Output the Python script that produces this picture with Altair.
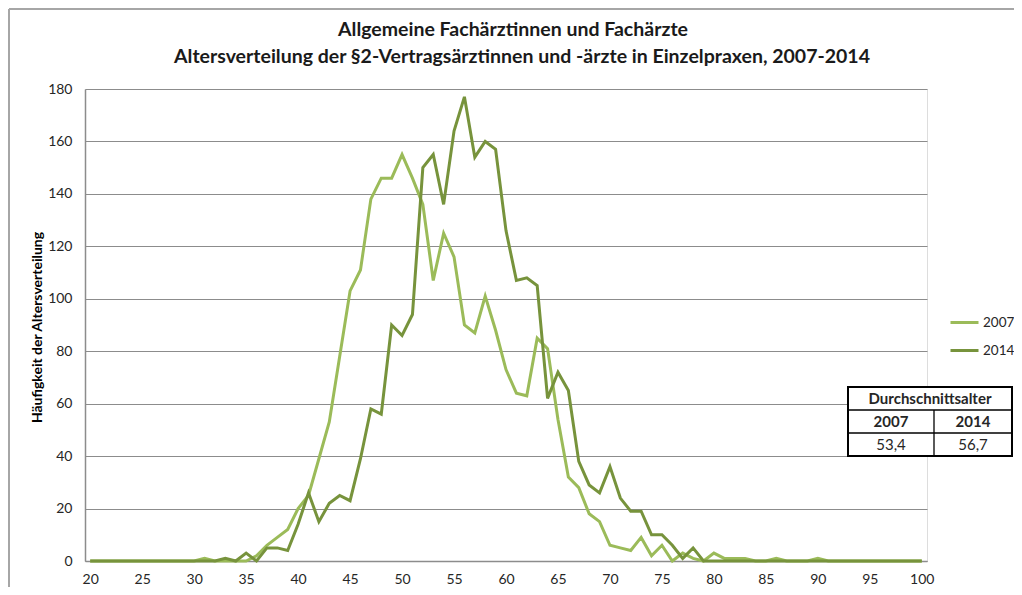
import altair as alt
import pandas as pd

# ---------------- data ----------------
ages = list(range(20, 101))

freq_2007 = [
    0, 0, 0, 0, 0, 0, 0, 0, 0, 0,            # 20-29
    0, 1, 0, 0, 0, 0, 2, 6, 9, 12,           # 30-39
    20, 25, 39, 53, 78, 103, 111, 138, 146, 146,   # 40-49
    155, 146, 136, 107, 125, 116, 90, 87, 101, 88,  # 50-59
    73, 64, 63, 85, 81, 54, 32, 28, 18, 15,         # 60-69
    6, 5, 4, 9, 2, 6, 0, 3, 1, 0,                   # 70-79
    3, 1, 1, 1, 0, 0, 1, 0, 0, 0,                   # 80-89
    1, 0, 0, 0, 0, 0, 0, 0, 0, 0,                   # 90-99
    0,                                              # 100
]

freq_2014 = [
    0, 0, 0, 0, 0, 0, 0, 0, 0, 0,            # 20-29
    0, 0, 0, 1, 0, 3, 0, 5, 5, 4,            # 30-39
    14, 26, 15, 22, 25, 23, 39, 58, 56, 90,         # 40-49
    86, 94, 150, 155, 136, 164, 177, 154, 160, 157, # 50-59
    126, 107, 108, 105, 62, 72, 65, 38, 29, 26,     # 60-69
    36, 24, 19, 19, 10, 10, 6, 1, 5, 0,             # 70-79
    0, 0, 0, 0, 0, 0, 0, 0, 0, 0,                   # 80-89
    0, 0, 0, 0, 0, 0, 0, 0, 0, 0,                   # 90-99
    0,                                              # 100
]

series = ["2007", "2014"]
series_colors = ["#9BBB59", "#77933C"]

x_ticks = list(range(20, 101, 5))
y_ticks = list(range(0, 181, 20))

title_lines = [
    "Allgemeine Fachärztinnen und Fachärzte",
    "Altersverteilung der §2-Vertragsärztinnen und -ärzte in Einzelpraxen, 2007-2014",
]
y_title = "Häufigkeit  der Altersverteilung"

table_header = "Durchschnittsalter"
table_years = ["2007", "2014"]
table_means = [53.4, 56.7]

# ---------------- layout ----------------
W, H = 842, 472
PAD_L, PAD_T, PAD_R, PAD_B = 77, 81, 87, 26
OX, OY = 8 + PAD_L, 8 + PAD_T          # page position of plot origin
FONT = "Lato"
TXT = "#262626"
GRID = "#8c8c8c"


def rx(page_x):
    return page_x - OX


def ry(page_y):
    return page_y - OY


df = pd.DataFrame({
    "age": ages + ages,
    "value": freq_2007 + freq_2014,
    "year": [series[0]] * len(ages) + [series[1]] * len(ages),
})

lines = alt.Chart(df).mark_line(strokeWidth=3, clip=False).encode(
    x=alt.X(
        "age:Q",
        scale=alt.Scale(domain=[19.5, 100.5], nice=False, zero=False),
        axis=alt.Axis(
            values=x_ticks, grid=False, ticks=False, labelPadding=11,
            labelFlush=False, title=None, domainColor=GRID, domainWidth=1.5,
            labelFont=FONT, labelFontSize=14, labelColor=TXT,
        ),
    ),
    y=alt.Y(
        "value:Q",
        scale=alt.Scale(domain=[0, 180], nice=False),
        axis=alt.Axis(
            values=y_ticks, grid=True, gridColor=GRID, gridWidth=1.2,
            ticks=False, labelPadding=13, domainColor=GRID, domainWidth=1.5,
            labelFont=FONT, labelFontSize=14, labelColor=TXT,
            title=y_title, titleFont=FONT, titleFontSize=14,
            titleFontWeight="bold", titleColor="#000000",
            titleX=rx(37.5), titleY=ry(327), titleBaseline="middle", titleAlign="center",
        ),
    ),
    color=alt.Color(
        "year:N",
        scale=alt.Scale(domain=series, range=series_colors),
        legend=alt.Legend(
            title=None, orient="none", legendX=rx(949), legendY=ry(307),
            symbolType="stroke", symbolSize=784, symbolStrokeWidth=3,
            rowPadding=6, labelOffset=3,
            labelFont=FONT, labelFontSize=13.5, labelColor=TXT,
        ),
    ),
)

# ---------------- title (annotation) ----------------
one = pd.DataFrame({"k": [0]})


def label(text, px, py, size, bold, color=TXT):
    return alt.Chart(pd.DataFrame({"t": [text]})).mark_text(
        font=FONT, fontSize=size, fontWeight="bold" if bold else "normal",
        color=color, align="center", baseline="middle",
    ).encode(text="t:N", x=alt.value(rx(px)), y=alt.value(ry(py)))


titles = [
    label(title_lines[0], 513, 30, 19.5, True, "#1a1a1a"),
    label(title_lines[1], 522, 57, 19.5, True, "#1a1a1a"),
]

# ---------------- table (annotation) ----------------
tx0, tx1, tdiv = rx(848), rx(1012), rx(934)
ty0, ty1, ty2, ty3 = ry(387), ry(410), ry(433), ry(456)

table_box = alt.Chart(one).mark_rect(fill="white", stroke="black", strokeWidth=2).encode(
    x=alt.value(tx0), x2=alt.value(tx1), y=alt.value(ty0), y2=alt.value(ty3)
)
hline1 = alt.Chart(one).mark_rule(color="black", strokeWidth=1.3).encode(
    x=alt.value(tx0), x2=alt.value(tx1), y=alt.value(ty1)
)
hline2 = alt.Chart(one).mark_rule(color="black", strokeWidth=1.3).encode(
    x=alt.value(tx0), x2=alt.value(tx1), y=alt.value(ty2)
)
vline = alt.Chart(one).mark_rule(color="black", strokeWidth=1.3).encode(
    x=alt.value(tdiv), y=alt.value(ty1), y2=alt.value(ty3)
)


def cell(text, cx, cy, bold):
    return alt.Chart(pd.DataFrame({"t": [text]})).mark_text(
        font=FONT, fontSize=15, fontWeight="bold" if bold else "normal",
        color=TXT, align="center", baseline="middle",
    ).encode(text="t:N", x=alt.value(cx), y=alt.value(cy))


col1 = (tx0 + tdiv) / 2
col2 = (tdiv + tx1) / 2
cells = [
    cell(table_header, (tx0 + tx1) / 2, (ty0 + ty1) / 2, True),
    cell(table_years[0], col1, (ty1 + ty2) / 2, True),
    cell(table_years[1], col2, (ty1 + ty2) / 2, True),
    cell(f"{table_means[0]:.1f}".replace(".", ","), col1, (ty2 + ty3) / 2, False),
    cell(f"{table_means[1]:.1f}".replace(".", ","), col2, (ty2 + ty3) / 2, False),
]

# outer frame (left and top edges)
frame_left = alt.Chart(one).mark_rule(color="#a6a6a6", strokeWidth=2).encode(
    x=alt.value(-PAD_L + 1), y=alt.value(-PAD_T + 1), y2=alt.value(H + PAD_B)
)
frame_top = alt.Chart(one).mark_rule(color="#a6a6a6", strokeWidth=2).encode(
    x=alt.value(-PAD_L + 1), x2=alt.value(W + PAD_R), y=alt.value(-PAD_T + 1)
)

chart = alt.layer(
    frame_left, frame_top, lines, table_box, hline1, hline2, vline, *cells, *titles
).properties(
    width=W,
    height=H,
    autosize=alt.AutoSizeParams(type="none"),
    padding={"left": PAD_L, "top": PAD_T, "right": PAD_R, "bottom": PAD_B},
).configure_view(stroke=None).configure(background="white")

chart.save("out.html", embed_options={"renderer": "svg", "actions": False})
